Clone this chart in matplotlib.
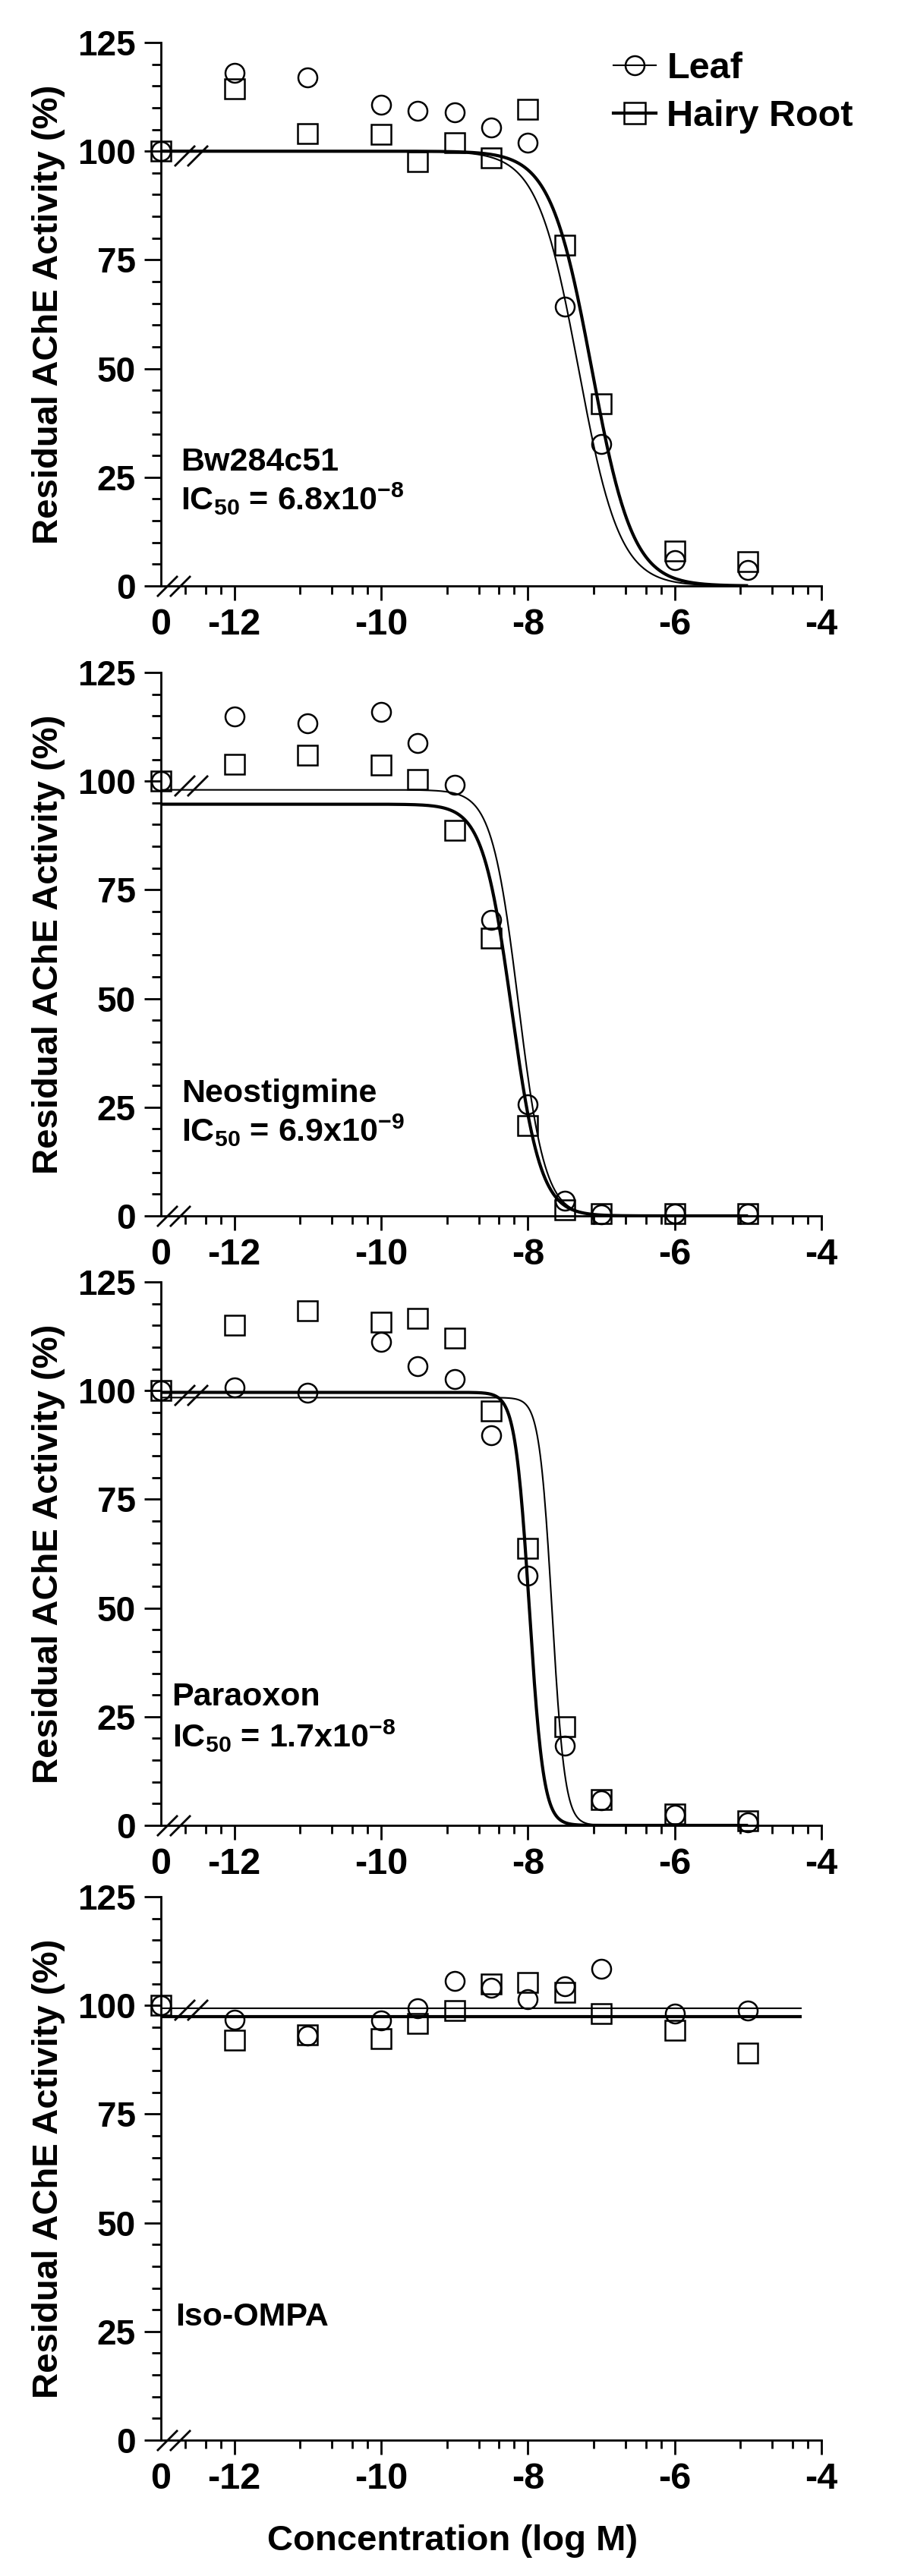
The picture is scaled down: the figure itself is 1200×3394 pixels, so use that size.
import numpy as np
import matplotlib.pyplot as plt
from matplotlib.lines import Line2D

plt.rcParams['font.family'] = ['Liberation Sans', 'DejaVu Sans']
plt.rcParams['font.weight'] = 'bold'
plt.rcParams['mathtext.fontset'] = 'custom'
plt.rcParams['mathtext.rm'] = 'Liberation Sans:bold'
plt.rcParams['mathtext.bf'] = 'Liberation Sans:bold'
plt.rcParams['mathtext.it'] = 'Liberation Sans:bold'
plt.rcParams['mathtext.default'] = 'rm'

# Data: log M concentrations, control ("0") is drawn at -13
x_ctrl = -13
ctrl_value = 100
x_conc = [-12, -11, -10, -9.5, -9, -8.5, -8, -7.5, -7, -6, -5]

bw_leaf = [118.0, 116.9, 110.7, 109.3, 109.0, 105.4, 102.0, 64.2, 32.6, 5.9, 3.7]
bw_root = [114.3, 104.1, 103.9, 97.6, 101.9, 98.4, 109.6, 78.3, 41.9, 8.0, 5.6]
neo_leaf = [114.8, 113.3, 116.0, 108.8, 99.2, 68.1, 25.7, 3.5, 0.3, 0.5, 0.5]
neo_root = [103.8, 106.0, 103.7, 100.4, 88.6, 63.9, 20.8, 1.4, 0.5, 0.5, 0.5]
par_leaf = [100.8, 99.5, 111.2, 105.7, 102.7, 89.7, 57.5, 18.4, 5.7, 2.4, 0.7]
par_root = [115.1, 118.3, 115.7, 116.6, 112.1, 95.4, 63.7, 22.7, 6.0, 2.7, 1.0]
iso_leaf = [96.7, 93.0, 96.5, 99.4, 105.6, 104.1, 101.4, 104.4, 108.5, 98.1, 98.8]
iso_root = [92.0, 93.2, 92.3, 95.9, 98.8, 105.0, 105.3, 103.0, 98.1, 94.2, 89.1]

leaf_data = [bw_leaf, neo_leaf, par_leaf, iso_leaf]
root_data = [bw_root, neo_root, par_root, iso_root]

# fitted dose-response parameters (top, bottom, logIC50, hill slope)
fit_leaf = [(100, 0, -7.31, 1.55), (98.0, 0, -8.13, 2.4), (98.4, 0, -7.67, 5.0), (99.3, 99.3, -8, 1)]
fit_root = [(100, 0, -7.13, 1.55), (94.7, 0, -8.22, 2.2), (99.6, 0, -7.98, 4.5), (97.5, 97.5, -8, 1)]
fit_end = [-5, -5, -5, -4.27]

names = ['Bw284c51', 'Neostigmine', 'Paraoxon', 'Iso-OMPA']
ic50_labels = [r'IC$_{50}$ = 6.8x10$^{-8}$', r'IC$_{50}$ = 6.9x10$^{-9}$',
               r'IC$_{50}$ = 1.7x10$^{-8}$', None]
name_y = [26.5, 26.2, 27.5, 26.3]
ic_y = [17.5, 17.1, 18.0, None]
name_x = [-12.73, -12.72, -12.85, -12.8]

xtick_pos = [-13, -12, -10, -8, -6, -4]
xtick_labels = ['0', '-12', '-10', '-8', '-6', '-4']
minor_frac = [0.448, 0.665, 0.804, 0.907]

W, H = 1200, 3394
bottoms_px = [772, 1602, 2405, 3215]
fig = plt.figure(figsize=(W / 100, H / 100), dpi=100)

slash = [(-1, -1), (1, 1)]

for i, b in enumerate(bottoms_px):
    ax = fig.add_axes([212 / W, (H - b) / H, 870 / W, 716 / H])
    ax.set_xlim(-13, -4)
    ax.set_ylim(0, 125)
    for s in ['top', 'right']:
        ax.spines[s].set_visible(False)
    for s in ['left', 'bottom']:
        ax.spines[s].set_linewidth(2)

    ax.set_yticks([0, 25, 50, 75, 100, 125])
    ax.set_yticks(np.arange(0, 126, 5), minor=True)
    ax.set_xticks(xtick_pos, labels=xtick_labels)
    minors = [L + 2 * f for L in range(-14, -4, 2) for f in minor_frac]
    ax.set_xticks([m for m in minors if m > -13], minor=True)
    ax.tick_params(axis='y', which='major', length=16, width=2, labelsize=33, pad=8)
    ax.tick_params(axis='y', which='minor', length=9, width=2)
    ax.tick_params(axis='x', which='major', length=14, width=2, labelsize=35, pad=7)
    ax.tick_params(axis='x', which='minor', length=8, width=2)
    ax.xaxis.get_major_ticks()[0].tick1line.set_visible(False)

    # fitted curves
    for fit, lw in [(fit_leaf[i], 1.5), (fit_root[i], 3.0)]:
        top, bot, c, n = fit
        xs = np.linspace(-13, fit_end[i], 600)
        ys = bot + (top - bot) / (1 + 10 ** (n * (xs - c)))
        ax.plot(xs, np.clip(ys, 0, None), color='k', lw=lw, solid_capstyle='butt')

    xp = [x_ctrl] + x_conc
    ax.plot(xp, [ctrl_value] + root_data[i], ls='none', marker='s', ms=19,
            mfc='none', mec='k', mew=1.8, clip_on=False)
    ax.plot(xp, [ctrl_value] + leaf_data[i], ls='none', marker='o', ms=18,
            mfc='none', mec='k', mew=1.8, clip_on=False)

    # axis break marks
    ax.plot([-12.92, -12.74], [0, 0], ls='none', marker=slash, ms=19.5,
            mec='k', mew=2, clip_on=False)
    ax.plot([-12.68, -12.50], [99, 99], ls='none', marker=slash, ms=19.5,
            mec='k', mew=2, clip_on=False)

    ax.text(name_x[i], name_y[i], names[i], fontsize=31, fontweight='bold')
    if ic50_labels[i]:
        ax.text(name_x[i], ic_y[i], ic50_labels[i], fontsize=31, fontweight='bold')

    ax.set_ylabel('Residual AChE Activity (%)', fontsize=34, fontweight='bold')
    ax.yaxis.set_label_coords(-0.145, 0.5)

    if i == 0:
        handles = [
            Line2D([], [], color='k', lw=1.5, marker='o', ms=18, mfc='none', mew=1.8, label='Leaf'),
            Line2D([], [], color='k', lw=3.0, marker='s', ms=20, mfc='none', mew=1.8, label='Hairy Root'),
        ]
        ax.legend(handles=handles, loc='upper left', bbox_to_anchor=(0.685, 0.983),
                  frameon=False, prop={'size': 35, 'weight': 'bold'},
                  handlelength=1.15, handletextpad=0.3, labelspacing=0.36,
                  borderpad=0, borderaxespad=0)
    if i == 3:
        ax.set_xlabel('Concentration (log M)', fontsize=34, fontweight='bold')
        ax.xaxis.set_label_coords(0.441, -0.155)

fig.savefig('out.png', dpi=100)
